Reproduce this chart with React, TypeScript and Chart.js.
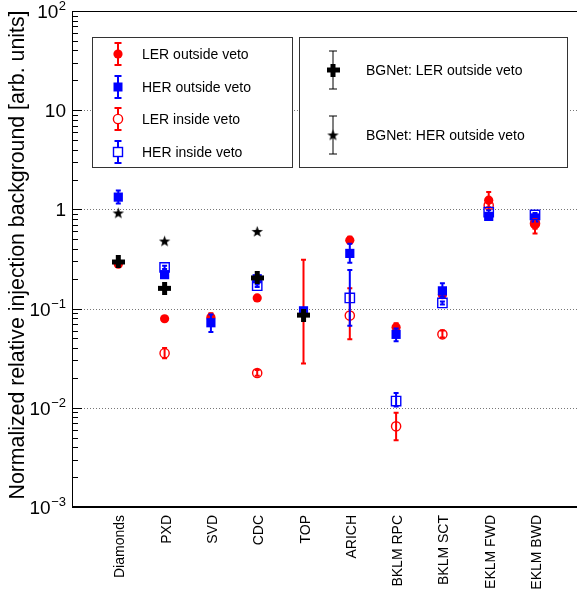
import React, { useEffect, useRef } from 'react';
import { Chart, registerables } from 'chart.js';
Chart.register(...registerables);

const categories = ['Diamonds', 'PXD', 'SVD', 'CDC', 'TOP', 'ARICH', 'BKLM RPC', 'BKLM SCT', 'EKLM FWD', 'EKLM BWD'];

const lerOutside = [0.28, 0.079, 0.082, 0.128, 0.09, 0.49, 0.065, 0.138, 1.24, 0.7];
const lerOutsideLow = [0.266, 0.075, 0.074, 0.122, 0.028, 0.455, 0.06, 0.13, 1.05, 0.57];
const lerOutsideHigh = [0.295, 0.083, 0.09, 0.134, 0.31, 0.53, 0.071, 0.146, 1.5, 0.86];

const herOutside = [1.33, 0.22, 0.072, 0.2, 0.095, 0.36, 0.055, 0.151, 0.85, 0.82];
const herOutsideLow = [1.15, 0.205, 0.058, 0.19, 0.089, 0.29, 0.047, 0.132, 0.81, 0.78];
const herOutsideHigh = [1.55, 0.235, 0.087, 0.21, 0.1, 0.45, 0.063, 0.18, 0.9, 0.87];

const lerInside = [null, 0.0355, null, 0.0224, null, 0.085, 0.0065, 0.055, 1.1, 0.72];
const lerInsideLow = [null, 0.0315, null, 0.021, null, 0.049, 0.0047, 0.051, 1.0, 0.64];
const lerInsideHigh = [null, 0.04, null, 0.024, null, 0.16, 0.0089, 0.06, 1.2, 0.8];

const herInside = [null, 0.26, null, 0.17, null, 0.128, 0.0117, 0.114, 0.94, 0.88];
const herInsideLow = [null, 0.25, null, 0.165, null, 0.067, 0.0103, 0.11, 0.9, 0.85];
const herInsideHigh = [null, 0.27, null, 0.175, null, 0.245, 0.0141, 0.118, 0.98, 0.92];

const bgnetLer = [0.295, 0.16, null, 0.204, 0.086, null, null, null, null, null];
const bgnetHer = [0.92, 0.48, null, 0.6, null, null, null, null, null, null];

const yExponents = [-3, -2, -1, 0, 1, 2];
const yTitle = 'Normalized relative injection background [arb. units]';

const RED = '#ff0000';
const BLUE = '#0000ff';
const FONT = '"Liberation Sans", Arial, Helvetica, sans-serif';

function makePlus(): HTMLCanvasElement {
  const c = document.createElement('canvas');
  c.width = 13; c.height = 13;
  const g = c.getContext('2d')!;
  g.fillStyle = '#000';
  g.fillRect(0, 4, 13, 5);
  g.fillRect(4, 0, 5, 13);
  return c;
}

function starPath(g: CanvasRenderingContext2D, cx: number, cy: number, ro: number, ri: number) {
  g.beginPath();
  for (let i = 0; i < 10; i++) {
    const r = i % 2 === 0 ? ro : ri;
    const a = -Math.PI / 2 + (i * Math.PI) / 5;
    const px = cx + r * Math.cos(a);
    const py = cy + r * Math.sin(a);
    if (i === 0) g.moveTo(px, py); else g.lineTo(px, py);
  }
  g.closePath();
}

function makeStar(): HTMLCanvasElement {
  const c = document.createElement('canvas');
  c.width = 13; c.height = 13;
  const g = c.getContext('2d')!;
  g.fillStyle = '#000';
  starPath(g, 6.5, 7, 6, 2.4);
  g.fill();
  return c;
}

function toPoints(vals: (number | null)[], lo: (number | null)[] | null, hi: (number | null)[] | null) {
  const pts: any[] = [];
  vals.forEach((v, i) => {
    if (v == null) return;
    pts.push({ x: i + 1, y: v, lo: lo ? lo[i] : null, hi: hi ? hi[i] : null });
  });
  return pts;
}

export default function App() {
  const ref = useRef<HTMLCanvasElement>(null);

  useEffect(() => {
    const plus = makePlus();
    const star = makeStar();

    const datasets: any[] = [
      { label: 'LER outside veto', data: toPoints(lerOutside, lerOutsideLow, lerOutsideHigh), pointStyle: 'circle', pointRadius: 4.6, pointBorderWidth: 0, pointBackgroundColor: RED, pointBorderColor: RED, errColor: RED },
      { label: 'HER outside veto', data: toPoints(herOutside, herOutsideLow, herOutsideHigh), pointStyle: 'rect', pointRadius: 6.5, pointBorderWidth: 0, pointBackgroundColor: BLUE, pointBorderColor: BLUE, errColor: BLUE },
      { label: 'LER inside veto', data: toPoints(lerInside, lerInsideLow, lerInsideHigh), pointStyle: 'circle', pointRadius: 4.6, pointBorderWidth: 1.4, pointBackgroundColor: 'rgba(0,0,0,0)', pointBorderColor: RED, errColor: RED },
      { label: 'HER inside veto', data: toPoints(herInside, herInsideLow, herInsideHigh), pointStyle: 'rect', pointRadius: 6.6, pointBorderWidth: 1.4, pointBackgroundColor: 'rgba(0,0,0,0)', pointBorderColor: BLUE, errColor: BLUE },
      { label: 'BGNet: LER outside veto', data: toPoints(bgnetLer, null, null), pointStyle: plus, pointRadius: 6, errColor: '#000' },
      { label: 'BGNet: HER outside veto', data: toPoints(bgnetHer, null, null), pointStyle: star, pointRadius: 6, errColor: '#000' },
    ];
    datasets.forEach((d, i) => { d.order = datasets.length - i; d.showLine = false; });

    const rootPlugin = {
      id: 'rootStyle',
      beforeDatasetsDraw(chart: any) {
        const { ctx, chartArea } = chart;
        const ys = chart.scales.y;
        ctx.save();
        ctx.strokeStyle = '#777';
        ctx.lineWidth = 1;
        ctx.setLineDash([1, 2]);
        yExponents.forEach((e) => {
          if (e <= -3 || e >= 2) return;
          const y = Math.round(ys.getPixelForValue(Math.pow(10, e))) + 0.5;
          ctx.beginPath();
          ctx.moveTo(chartArea.left, y);
          ctx.lineTo(chartArea.right, y);
          ctx.stroke();
        });
        ctx.restore();
      },
      beforeDatasetDraw(chart: any, args: any) {
        const ds = chart.data.datasets[args.index];
        const meta = args.meta;
        const ys = chart.scales.y;
        const ctx = chart.ctx;
        ctx.save();
        ctx.strokeStyle = ds.errColor;
        ctx.lineWidth = 2;
        ds.data.forEach((p: any, j: number) => {
          if (p.lo == null || p.hi == null) return;
          const el = meta.data[j];
          const x = el.x;
          const y1 = ys.getPixelForValue(p.lo);
          const y2 = ys.getPixelForValue(p.hi);
          ctx.beginPath();
          ctx.moveTo(x, y1); ctx.lineTo(x, y2);
          ctx.moveTo(x - 2.5, y1); ctx.lineTo(x + 2.5, y1);
          ctx.moveTo(x - 2.5, y2); ctx.lineTo(x + 2.5, y2);
          ctx.stroke();
        });
        ctx.restore();
      },
      afterDraw(chart: any) {
        const { ctx, chartArea } = chart;
        const ys = chart.scales.y;
        const xs = chart.scales.x;
        ctx.save();
        // frame
        ctx.strokeStyle = '#000';
        ctx.lineWidth = 1;
        ctx.beginPath();
        ctx.moveTo(chartArea.left + 0.5, chartArea.top + 0.5);
        ctx.lineTo(chartArea.right, chartArea.top + 0.5);
        ctx.moveTo(chartArea.left + 0.5, chartArea.top);
        ctx.lineTo(chartArea.left + 0.5, chartArea.bottom);
        ctx.stroke();
        ctx.lineWidth = 2;
        ctx.beginPath();
        ctx.moveTo(chartArea.left, chartArea.bottom);
        ctx.lineTo(chartArea.right, chartArea.bottom);
        ctx.stroke();
        // y ticks
        ctx.lineWidth = 1;
        ctx.beginPath();
        for (let e = -3; e <= 1; e++) {
          for (let k = 1; k <= 9; k++) {
            const v = k * Math.pow(10, e);
            const y = Math.round(ys.getPixelForValue(v)) + 0.5;
            const len = k === 1 ? 10 : 6;
            ctx.moveTo(chartArea.left, y);
            ctx.lineTo(chartArea.left + len, y);
          }
        }
        ctx.stroke();
        // y labels
        ctx.fillStyle = '#000';
        ctx.textBaseline = 'alphabetic';
        const right = 66;
        yExponents.forEach((e) => {
          const y = ys.getPixelForValue(Math.pow(10, e));
          if (e === 0 || e === 1) {
            ctx.font = '19px ' + FONT;
            ctx.textAlign = 'right';
            ctx.fillText(e === 0 ? '1' : '10', right, y + 7);
          } else {
            const sup = e < 0 ? '\u2212' + String(-e) : String(e);
            ctx.font = '13px ' + FONT;
            ctx.textAlign = 'left';
            const w = ctx.measureText(sup).width;
            ctx.fillText(sup, right - w, y - 1);
            ctx.font = '19px ' + FONT;
            ctx.textAlign = 'right';
            ctx.fillText('10', right - w - 0.5, y + 7);
          }
        });
        // y title
        ctx.save();
        ctx.translate(24, (chartArea.top + chartArea.bottom) / 2 - 4);
        ctx.rotate(-Math.PI / 2);
        ctx.font = '21.3px ' + FONT;
        ctx.textAlign = 'center';
        ctx.fillText(yTitle, 0, 0);
        ctx.restore();
        // x labels
        ctx.font = '14px ' + FONT;
        categories.forEach((c, i) => {
          const x = xs.getPixelForValue(i + 1);
          ctx.save();
          ctx.translate(x + 6, chartArea.bottom + 8);
          ctx.rotate(-Math.PI / 2);
          ctx.textAlign = 'right';
          ctx.fillText(c, 0, 0);
          ctx.restore();
        });
        // legends
        const box = (x: number, y: number, w: number, h: number) => {
          ctx.fillStyle = '#fff';
          ctx.fillRect(x, y, w, h);
          ctx.strokeStyle = '#333';
          ctx.lineWidth = 1;
          ctx.strokeRect(x + 0.5, y + 0.5, w, h);
        };
        box(92, 37, 200, 130);
        box(299, 37, 268, 130);
        const bar = (x: number, y: number, half: number, cap: number, color: string, lw: number) => {
          ctx.strokeStyle = color;
          ctx.lineWidth = lw;
          ctx.beginPath();
          ctx.moveTo(x, y - half); ctx.lineTo(x, y + half);
          ctx.moveTo(x - cap, y - half); ctx.lineTo(x + cap, y - half);
          ctx.moveTo(x - cap, y + half); ctx.lineTo(x + cap, y + half);
          ctx.stroke();
        };
        const lx = 118;
        const rows = [54, 87, 119, 152];
        ctx.font = '14px ' + FONT;
        ctx.textAlign = 'left';
        bar(lx, rows[0], 11, 3.5, RED, 2);
        ctx.fillStyle = RED; ctx.beginPath(); ctx.arc(lx, rows[0], 4.6, 0, Math.PI * 2); ctx.fill();
        bar(lx, rows[1], 11, 3.5, BLUE, 2);
        ctx.fillStyle = BLUE; ctx.fillRect(lx - 4.5, rows[1] - 4.5, 9, 9);
        bar(lx, rows[2], 11, 3.5, RED, 2);
        ctx.fillStyle = '#fff'; ctx.strokeStyle = RED; ctx.lineWidth = 1.4;
        ctx.beginPath(); ctx.arc(lx, rows[2], 4.6, 0, Math.PI * 2); ctx.fill(); ctx.stroke();
        bar(lx, rows[3], 11, 3.5, BLUE, 2);
        ctx.fillStyle = '#fff'; ctx.strokeStyle = BLUE; ctx.lineWidth = 1.4;
        ctx.fillRect(lx - 4.5, rows[3] - 4.5, 9, 9); ctx.strokeRect(lx - 4.5, rows[3] - 4.5, 9, 9);
        ctx.fillStyle = '#000';
        for (let i = 0; i < 4; i++) ctx.fillText(datasets[i].label, 142, rows[i] + 5);
        const rx = 333;
        const rrows = [70, 135];
        bar(rx, rrows[0], 19, 4, '#000', 1);
        ctx.drawImage(plus, rx - 6.5, rrows[0] - 6.5);
        bar(rx, rrows[1], 19, 4, '#000', 1);
        ctx.drawImage(star, rx - 6.5, rrows[1] - 6.5);
        ctx.fillStyle = '#000';
        ctx.fillText(datasets[4].label, 366, rrows[0] + 5);
        ctx.fillText(datasets[5].label, 366, rrows[1] + 5);
        ctx.restore();
      },
    };

    const chart = new Chart(ref.current!, {
      type: 'scatter',
      data: { datasets },
      options: {
        animation: false,
        responsive: false,
        devicePixelRatio: 1,
        events: [],
        layout: { autoPadding: false, padding: { top: 11, left: 0, right: 0, bottom: 0 } },
        plugins: { legend: { display: false }, tooltip: { enabled: false } },
        scales: {
          x: {
            type: 'linear', min: 0, max: 10.907,
            ticks: { display: false }, grid: { display: false }, border: { display: false },
            afterFit: (s: any) => { s.height = 85; },
          },
          y: {
            type: 'logarithmic', min: 0.001, max: 100,
            ticks: { display: false }, grid: { display: false }, border: { display: false },
            afterFit: (s: any) => { s.width = 72; },
          },
        },
      } as any,
      plugins: [rootPlugin],
    });
    return () => chart.destroy();
  }, []);

  return (
    <div style={{ position: 'absolute', left: 0, top: 0, width: 577, height: 592, overflow: 'hidden', background: '#fff' }}>
      <canvas ref={ref} width={577} height={592} style={{ display: 'block' }} />
    </div>
  );
}
